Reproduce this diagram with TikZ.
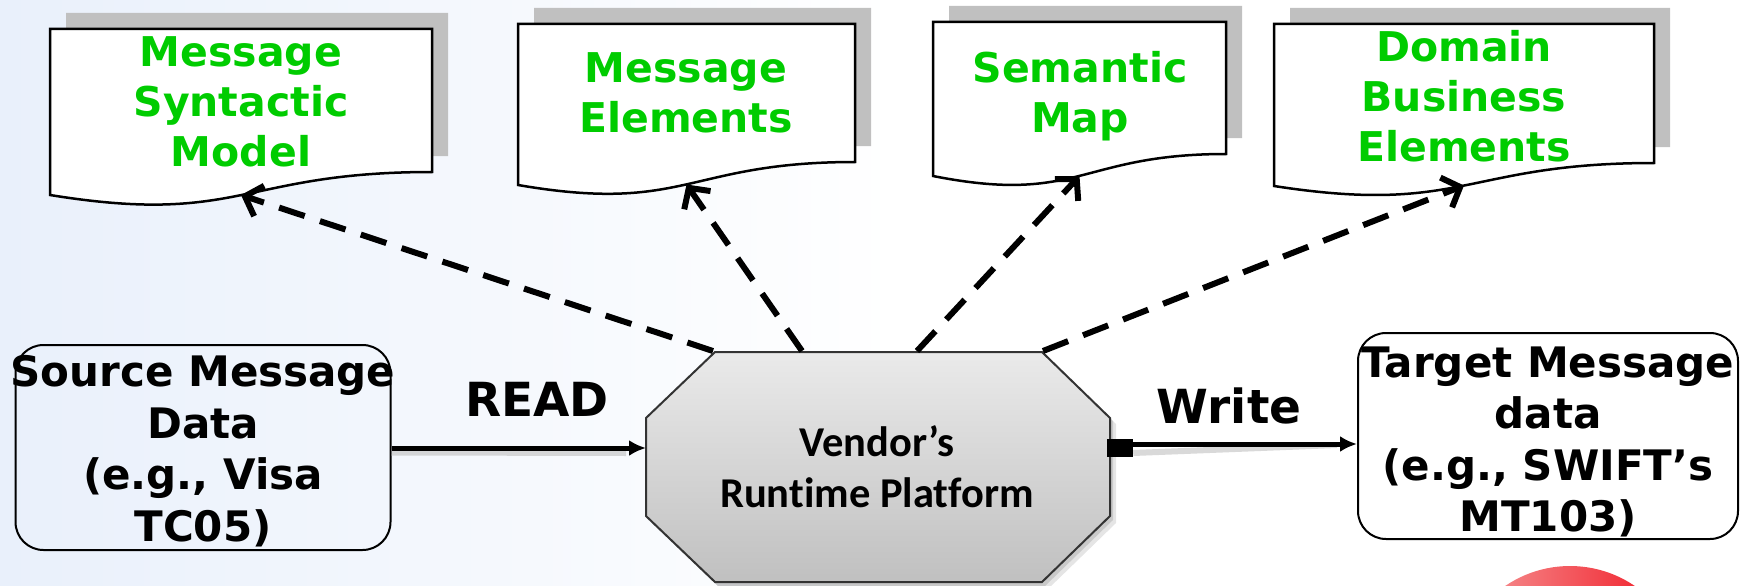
\documentclass[tikz,border=0pt]{standalone}
\usepackage{fontspec}
\setmainfont{DejaVu Sans}
\newfontfamily\platfont[Ligatures=NoCommon]{Carlito}
\usetikzlibrary{arrows.meta}
\definecolor{docgreen}{RGB}{0,204,0}
\definecolor{bgblue}{RGB}{233,240,251}
\definecolor{shadowgray}{RGB}{192,192,192}
\definecolor{octtop}{RGB}{234,234,234}
\definecolor{octbot}{RGB}{192,192,192}
\definecolor{ballpink}{RGB}{246,160,160}
\definecolor{ballred}{RGB}{240,16,28}

% document symbol: left, top, right, right-bottom y, lower control y, left-bottom y
\newcommand\docshape[6]{%
  \fill[shadowgray,shift={(16,-16)}] (#1,#2) -- (#3,#2) -- (#3,#4)
    .. controls ({(#1+#3)/2},#4) and ({(#1+#3)/2},#5) .. (#1,#6) -- cycle;
  \draw[docframe] (#1,#2) -- (#3,#2) -- (#3,#4)
    .. controls ({(#1+#3)/2},#4) and ({(#1+#3)/2},#5) .. (#1,#6) -- cycle;
}

\tikzset{
  docframe/.style={draw=black,line width=2.5pt,fill=white},
  doctext/.style={text=docgreen,align=center,inner sep=0pt,
    font=\fontsize{41}{50}\selectfont\bfseries},
  boxtext/.style={align=center,inner sep=0pt,
    font=\fontsize{42}{51.5}\selectfont\bfseries},
  lbl/.style={inner sep=0pt,font=\fontsize{47}{56}\selectfont\bfseries},
  msgbox/.style={draw=black,line width=2pt,rounded corners=28pt,inner sep=0pt},
  plattext/.style={align=center,inner sep=0pt,
    font=\fontsize{42.5}{51}\platfont\bfseries},
  depends/.style={line width=6pt,dash pattern=on 27pt off 16pt,
    -{Straight Barb[length=15pt,width=32pt]}},
  flow/.style={line width=5pt,-{Latex[length=17pt,width=16pt]}},
  flowshadow/.style={line width=6pt,black!25,opacity=.6},
}

\begin{document}
\begin{tikzpicture}[x=1pt,y=-1pt]
\useasboundingbox (0,0) rectangle (1754,586);
% backdrop
\shade[left color=bgblue,right color=white] (0,0) rectangle (900,586);

% red ball peeking in at the bottom
\shade[left color=ballpink,right color=ballred] (1570,681) circle[radius=115];

% documents
\docshape{50}{29}{432}{172}{226}{195}
\docshape{518}{24}{855}{162}{214}{185}
\docshape{933}{22}{1226}{154}{205}{176}
\docshape{1274}{24}{1654}{163}{215.5}{186}

\node[doctext] (syn)  at (241,102)  {Message\\Syntactic\\Model};
\node[doctext] (elem) at (686,93)   {Message\\Elements};
\node[doctext] (sem)  at (1080,96)  {Semantic\\Map};
\node[doctext] (dom)  at (1464,96)  {Domain\\Business\\Elements};

\coordinate (d1) at (241,195);
\coordinate (d2) at (686.5,184.5);
\coordinate (d3) at (1079.5,176);
\coordinate (d4) at (1464,185.5);

% runtime platform octagon
\fill[black,opacity=.10] (721,358) -- (1048,358) -- (1116,424) -- (1116,523)
  -- (1048,589) -- (721,589) -- (652,523) -- (652,424) -- cycle;
\fill[black,opacity=.12] (718,355) -- (1045,355) -- (1113,421) -- (1113,520)
  -- (1045,586) -- (718,586) -- (649,520) -- (649,421) -- cycle;
\shade[top color=octtop,bottom color=octbot,draw=black!80,line width=2pt]
  (715,352) -- (1042,352) -- (1110,418) -- (1110,516) -- (1042,582)
  -- (715,582) -- (646,516) -- (646,418) -- cycle;
\node[plattext] (plat) at (877,467) {Vendor’s\\Runtime Platform};

\coordinate (o1) at (713,351);
\coordinate (o2) at (802,351);
\coordinate (o3) at (917,351);
\coordinate (o4) at (1043,351);
\coordinate (oL) at (646,448);
\coordinate (oR) at (1110,444);

% dependencies of the platform
\draw[depends] (o1) -- (d1);
\draw[depends] (o2) -- (d2);
\draw[depends] (o3) -- (d3);
\draw[depends] (o4) -- (d4);

% source and target messages
\node[msgbox,minimum width=375pt,minimum height=205pt] (src) at (203,447.5) {};
\node[boxtext] (srctxt) at (203,451) {Source Message\\Data\\(e.g., Visa\\TC05)};
\node[msgbox,minimum width=380pt,minimum height=206pt] (tgt) at (1548,436) {};
\node[boxtext] (tgttxt) at (1548,442) {Target Message\\data\\(e.g., SWIFT’s\\MT103)};

% read / write flows
\draw[flowshadow] ([yshift=-5pt]src.east) -- ([yshift=-5pt,xshift=-20pt]oL);
\draw[flow] (src.east |- oL) -- (oL);
\node[lbl] (readlbl) at (537,399) {READ};

\node[fill=black,minimum width=26pt,minimum height=18pt,inner sep=0pt] (wsq) at (1120,448) {};
\draw[flowshadow] ([yshift=-5pt]wsq.east) -- ([yshift=-9pt,xshift=-20pt]tgt.west);
\draw[flow] (oR) -- (tgt.west |- oR);
\node[lbl] (writelbl) at (1229,406) {Write};
\end{tikzpicture}
\end{document}
